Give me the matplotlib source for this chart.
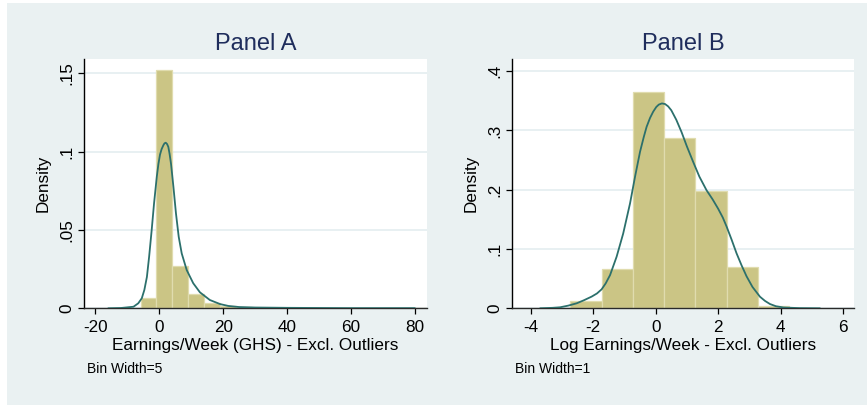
import numpy as np
import matplotlib
matplotlib.use("Agg")
import matplotlib.pyplot as plt
from matplotlib.patches import Rectangle

plt.rcParams['font.family'] = ['Liberation Sans', 'DejaVu Sans']

# ---- Panel A: weekly earnings (GHS), bin width 5 ----
a_bin_start = -5.9
a_bin_width = 5
a_density = [0.0066, 0.152, 0.027, 0.0091, 0.0033, 0.0013, 0.0006, 0.0003,
             0.0002, 0.0001, 0.0001, 0.0001, 0.0001, 0.0, 0.0, 0.0, 0.00005, 0.00005]
a_kde_x = [-16, -12, -8.1, -6.6, -5.5, -4.7, -3.9, -3.2, -2.4, -1.66, -0.8, -0.3,
           0.2, 0.7, 1.25, 1.6, 2.0, 2.4, 2.8, 3.2, 3.66, 4.4, 5.2, 6.06, 7.0,
           8.56, 10.6, 12.7, 15.8, 19.0, 21.6, 25, 30, 40, 50, 60, 70, 80]
a_kde_y = [0, 0.0002, 0.001, 0.0032, 0.0064, 0.0117, 0.020, 0.033, 0.050, 0.067,
           0.084, 0.092, 0.098, 0.1015, 0.104, 0.1052, 0.1056, 0.1048, 0.103,
           0.0985, 0.092, 0.0775, 0.0605, 0.0456, 0.035, 0.0244, 0.016, 0.0102,
           0.0053, 0.0027, 0.0015, 0.0008, 0.0005, 0.0003, 0.0002, 0.0001,
           0.0001, 0.0001]
a_xticks = [-20, 0, 20, 40, 60, 80]
a_yticks = [0, 0.05, 0.10, 0.15]
a_ytick_labels = ["0", ".05", ".1", ".15"]

# ---- Panel B: log weekly earnings, bin width 1 ----
b_bin_start = -2.73
b_bin_width = 1
b_density = [0.0123, 0.0658, 0.364, 0.288, 0.197, 0.070, 0.0045]
b_kde_x = [-3.7, -3.3, -3.06, -2.8, -2.53, -2.3, -2.05, -1.88, -1.73, -1.6,
           -1.46, -1.25, -1.04, -0.82, -0.66, -0.50, -0.38, -0.29, -0.18,
           -0.08, 0.02, 0.1, 0.2, 0.3, 0.4, 0.5, 0.66, 0.83, 1.0, 1.2, 1.4,
           1.63, 1.82, 2.0, 2.15, 2.27, 2.43, 2.59, 2.75, 2.91, 3.1, 3.34,
           3.5, 3.66, 3.85, 4.09, 4.6, 5.26]
b_kde_y = [0, 0.0008, 0.0017, 0.0045, 0.0084, 0.0135, 0.0197, 0.025, 0.032,
           0.042, 0.056, 0.087, 0.126, 0.177, 0.222, 0.264, 0.289, 0.306,
           0.321, 0.3315, 0.3395, 0.3435, 0.3455, 0.3445, 0.3405, 0.334, 0.318,
           0.297, 0.273, 0.247, 0.222, 0.199, 0.184, 0.168, 0.153, 0.138,
           0.116, 0.0927, 0.0725, 0.054, 0.036, 0.0195, 0.0125, 0.0072, 0.0035,
           0.0014, 0.0003, 0]
b_xticks = [-4, -2, 0, 2, 4, 6]
b_yticks = [0, 0.1, 0.2, 0.3, 0.4]
b_ytick_labels = ["0", ".1", ".2", ".3", ".4"]

BG = '#EAF1F2'
BAR = '#CBC585'
BAR_EDGE = '#E0DCAE'
LINE = '#2C706C'
GRID = '#E4EDF0'
TITLE = '#1F2D5C'

W, H = 867, 405
fig = plt.figure(figsize=(W / 100, H / 100), dpi=100, facecolor='white')
fig.patches.append(Rectangle((7 / W, 0), 1 - 7 / W, 1 - 3 / H, transform=fig.transFigure,
                             facecolor=BG, edgecolor='none', zorder=-10))

bottom = 1 - 308.3 / H
top = 1 - 59 / H
ax_a = fig.add_axes([84.3 / W, bottom, (426.7 - 84.3) / W, top - bottom])
ax_b = fig.add_axes([512.3 / W, bottom, (854.3 - 512.3) / W, top - bottom])


def panel(ax, title, start, width, dens, kx, ky, xticks, yticks, ylabels,
          xlim, ylim, xlabel, note):
    edges = start + width * np.arange(len(dens))
    ax.set_facecolor('white')
    ax.bar(edges, dens, width=width, align='edge', color=BAR,
           edgecolor=BAR_EDGE, linewidth=0.9, zorder=2)
    ax.plot(kx, ky, color=LINE, linewidth=1.3, zorder=3,
            solid_joinstyle='round', solid_capstyle='round')
    ax.set_xlim(*xlim)
    ax.set_ylim(*ylim)
    ax.set_xticks(xticks)
    ax.set_xticklabels([str(t) for t in xticks])
    ax.set_yticks(yticks)
    ax.set_yticklabels(ylabels, rotation=90, va='center')
    ax.yaxis.grid(True, color=GRID, linewidth=1.2, zorder=0)
    ax.set_axisbelow(True)
    for s in ('top', 'right'):
        ax.spines[s].set_visible(False)
    ax.spines['left'].set_color('black')
    ax.spines['bottom'].set_color('#2A2A2A')
    ax.spines['left'].set_linewidth(1.0)
    ax.spines['bottom'].set_linewidth(1.0)
    ax.tick_params(axis='both', direction='out', length=4.5, width=0.9,
                   labelsize=12.3, colors='black')
    ax.tick_params(axis='x', pad=4.0)
    ax.tick_params(axis='y', pad=3.0)
    ax.set_title(title, fontsize=17, color=TITLE, pad=6.5)
    ax.set_xlabel(xlabel, fontsize=12.3)
    ax.xaxis.label.set_va('baseline')
    ax.xaxis.set_label_coords(0.5, (308.3 - 350) / 249.3)
    ax.set_ylabel('Density', fontsize=12.3)
    ax.yaxis.set_label_coords(-41.3 / 342.4, 0.5)
    ax.yaxis.label.set_va('center')
    ax.text(0.009, (308.3 - 372.7) / 249.3, note, transform=ax.transAxes,
            fontsize=10, va='baseline', ha='left')


panel(ax_a, 'Panel A', a_bin_start, a_bin_width, a_density, a_kde_x, a_kde_y,
      a_xticks, a_yticks, a_ytick_labels, (-23.5, 83.7), (0, 0.159),
      'Earnings/Week (GHS) - Excl. Outliers', 'Bin Width=5')
panel(ax_b, 'Panel B', b_bin_start, b_bin_width, b_density, b_kde_x, b_kde_y,
      b_xticks, b_yticks, b_ytick_labels, (-4.59, 6.36), (0, 0.4204),
      'Log Earnings/Week - Excl. Outliers', 'Bin Width=1')

fig.savefig('out.png', dpi=100, facecolor='white')
